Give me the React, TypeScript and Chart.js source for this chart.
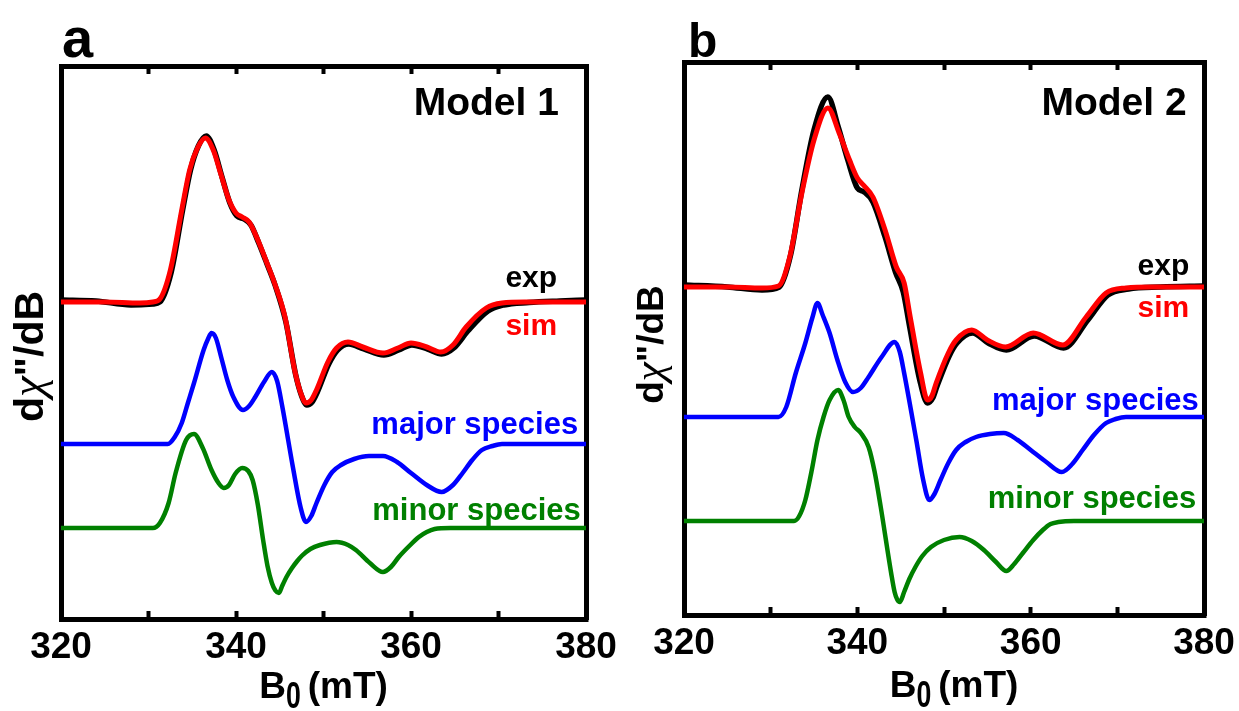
import React, { useEffect, useRef } from "react";
import { Chart, registerables } from "chart.js";

Chart.register(...registerables);

const FONT = '"Liberation Sans", Arial, Helvetica, sans-serif';
const SERIF = '"Liberation Serif", "DejaVu Serif", serif';

// ---------- Panel a (Model 1) ----------
const A_SIM_B = [320, 325, 329, 330.5, 331.3, 332.5, 333.8, 334.7, 335.6, 336.5, 337.4, 338.3, 339.2, 340.0, 340.7, 341.5, 342.5, 343.4, 344.4, 345.6, 346.7, 347.4, 348.0, 348.6, 349.2, 350.5, 351.5, 352.8, 354.5, 356.8, 358.5, 360.0, 361.8, 363.4, 364.8, 366.3, 368.6, 370.4, 373, 380];
const A_SIM_Y = [31.7, 31.7, 31.6, 31.7, 32.0, 34.9, 40.9, 44.9, 47.1, 48.1, 46.9, 44.4, 41.9, 40.6, 40.2, 39.7, 37.9, 35.9, 33.6, 30.2, 24.9, 22.6, 21.6, 21.9, 22.9, 25.7, 27.1, 27.7, 27.2, 26.6, 27.1, 27.6, 27.2, 26.7, 27.4, 29.2, 31.1, 31.6, 31.7, 31.7];

const A_EXP_B = [320, 324, 328, 330.5, 331.3, 332.6, 333.9, 334.8, 335.7, 336.6, 337.5, 338.4, 339.3, 340.1, 340.9, 341.7, 342.6, 343.5, 344.5, 345.7, 346.8, 347.5, 348.1, 348.7, 349.3, 350.6, 351.6, 352.9, 354.6, 356.9, 358.6, 360.1, 361.9, 363.5, 364.9, 366.5, 368.8, 370.6, 373.5, 377, 380];
const A_EXP_Y = [31.9, 31.8, 31.4, 31.5, 31.7, 34.7, 40.9, 44.9, 47.3, 48.3, 46.9, 44.2, 41.6, 40.3, 40.0, 39.4, 37.6, 35.6, 33.3, 29.7, 24.5, 22.3, 21.4, 21.7, 22.7, 25.5, 26.9, 27.5, 27.0, 26.4, 26.9, 27.4, 27.0, 26.5, 27.1, 28.8, 30.8, 31.4, 31.65, 31.8, 31.9];

const A_MAJOR_B = [320, 332.2, 333.0, 333.8, 334.5, 335.2, 336.3, 336.8, 337.2, 337.7, 338.3, 339.0, 339.7, 340.8, 341.5, 342.2, 343.2, 344.1, 344.7, 345.3, 346.5, 347.4, 348.0, 348.6, 349.2, 350.1, 351.0, 352.0, 353.5, 355.2, 356.8, 358.4, 360.0, 361.8, 363.5, 364.8, 365.9, 367.0, 368.1, 369.3, 370.4, 380];
const A_MAJOR_Y = [17.5, 17.5, 18.2, 19.6, 21.6, 23.6, 26.9, 28.0, 28.6, 28.1, 26.2, 23.9, 22.2, 20.9, 21.3, 22.2, 23.7, 24.7, 23.8, 21.2, 15.2, 11.1, 9.7, 10.3, 11.6, 13.4, 14.7, 15.4, 16.0, 16.3, 16.3, 15.7, 14.6, 13.4, 12.7, 13.4, 14.6, 15.9, 16.9, 17.3, 17.5, 17.5];

const A_MINOR_B = [320, 330.5, 331.3, 332.3, 333.1, 334.3, 335.2, 336.2, 337.2, 338.0, 338.6, 339.2, 339.9, 340.7, 341.4, 341.9, 342.5, 343.1, 343.6, 344.1, 344.5, 344.9, 345.3, 345.8, 346.4, 347.0, 347.5, 348.5, 349.6, 351.5, 352.8, 353.7, 355.3, 356.8, 357.7, 358.6, 359.8, 360.9, 361.8, 362.7, 364.5, 380];
const A_MINOR_Y = [9.1, 9.1, 9.6, 11.6, 14.6, 17.9, 18.5, 17.1, 14.9, 13.6, 13.1, 13.4, 14.5, 15.1, 14.8, 13.9, 11.4, 7.9, 5.3, 3.6, 2.85, 2.6, 3.35, 4.25, 5.1, 5.8, 6.3, 7.0, 7.4, 7.7, 7.4, 6.9, 5.6, 4.7, 5.2, 6.2, 7.3, 8.2, 8.7, 9.0, 9.1, 9.1];

// ---------- Panel b (Model 2) ----------
const B_SIM_B = [320, 325, 329, 330.9, 332.2, 333.6, 335.0, 336.6, 337.9, 339.1, 340.0, 340.7, 341.8, 343.2, 344.5, 345.4, 346.1, 347.3, 348.1, 348.6, 349.1, 350.5, 351.4, 353.2, 355.0, 357.1, 360.3, 363.7, 366.4, 368.7, 371, 374, 380];
const B_SIM_Y = [32.8, 32.8, 32.7, 32.9, 35.8, 42.2, 47.5, 50.7, 48.2, 45.5, 43.7, 43.0, 41.8, 38.5, 34.8, 33.2, 29.8, 24.2, 21.5, 21.9, 23.2, 26.2, 27.5, 28.5, 27.5, 26.8, 28.2, 27.0, 29.8, 32.2, 32.7, 32.8, 32.8];

const B_EXP_B = [320, 325, 329, 331.0, 332.3, 333.6, 335.0, 336.6, 337.8, 338.9, 340.0, 340.8, 341.8, 343.2, 344.4, 345.3, 346.0, 347.2, 348.1, 348.7, 349.2, 350.6, 351.5, 353.3, 355.1, 357.2, 360.4, 363.8, 366.6, 368.9, 371.3, 375, 380];
const B_EXP_Y = [33.0, 32.8, 32.5, 32.8, 36.0, 42.5, 48.5, 51.8, 48.8, 45.5, 42.7, 42.3, 41.3, 37.8, 34.3, 32.3, 29.0, 23.5, 21.2, 21.7, 22.9, 25.9, 27.2, 28.2, 27.2, 26.5, 27.9, 26.7, 29.5, 32.0, 32.6, 32.8, 32.9];

const B_MAJOR_B = [320, 330.9, 331.8, 332.9, 334.0, 334.8, 335.4, 336.0, 336.8, 337.7, 338.6, 339.5, 340.4, 341.3, 342.8, 344.3, 344.9, 345.4, 346.8, 347.6, 348.3, 348.9, 349.6, 350.5, 351.4, 352.5, 353.7, 355.3, 356.9, 358.5, 360.0, 361.8, 363.6, 364.8, 366.0, 367.3, 368.7, 369.8, 371.0, 380];
const B_MAJOR_Y = [19.8, 19.8, 20.8, 24.2, 27.2, 29.7, 31.2, 30.0, 28.2, 25.5, 23.3, 22.3, 22.7, 23.8, 25.8, 27.3, 26.3, 24.2, 17.5, 13.5, 11.5, 12.1, 13.5, 15.2, 16.5, 17.3, 17.8, 18.1, 18.2, 17.5, 16.5, 15.3, 14.3, 15.1, 16.5, 18.0, 19.2, 19.6, 19.8, 19.8];

const B_MINOR_B = [320, 332.7, 333.3, 334.0, 334.7, 335.4, 336.1, 336.8, 337.8, 338.4, 339.0, 339.7, 340.4, 341.3, 342.0, 342.7, 343.9, 344.3, 344.6, 344.9, 345.4, 346.0, 346.7, 347.5, 348.5, 350.0, 351.8, 353.2, 354.6, 356.0, 357.2, 358.1, 359.1, 360.3, 361.4, 362.3, 363.2, 365.0, 380];
const B_MINOR_Y = [9.4, 9.4, 9.9, 11.5, 14.3, 17.5, 19.8, 21.5, 22.5, 21.5, 19.8, 18.8, 18.2, 16.8, 14.3, 10.8, 4.2, 2.3, 1.55, 1.3, 2.3, 3.6, 4.8, 5.9, 6.8, 7.5, 7.8, 7.4, 6.5, 5.3, 4.4, 5.1, 6.2, 7.5, 8.5, 9.1, 9.3, 9.4, 9.4];

// axis ticks
const X_MIN = 320;
const X_MAX = 380;
const X_STEP = 10;
const X_LABELED = [320, 340, 360, 380];
const Y_MIN = 0;
const Y_MAX = 55.3;

const pts = (bs: number[], ys: number[]) => bs.map((b, i) => ({ x: b, y: ys[i] }));

function drawYTitle(ctx: CanvasRenderingContext2D, cx: number, cy: number, size: number) {
  const parts = [
    { t: "d", f: `bold ${size}px ${FONT}` },
    { t: "χ", f: `italic ${Math.round(size * 1.15)}px ${SERIF}` },
    { t: "\"", f: `bold ${size}px ${FONT}` },
    { t: "/dB", f: `bold ${size}px ${FONT}` },
  ];
  let total = 0;
  const widths = parts.map((p) => {
    ctx.font = p.f;
    const w = ctx.measureText(p.t).width;
    total += w;
    return w;
  });
  ctx.save();
  ctx.translate(cx, cy);
  ctx.rotate(-Math.PI / 2);
  ctx.textAlign = "left";
  ctx.textBaseline = "alphabetic";
  let px = -total / 2;
  parts.forEach((p, i) => {
    ctx.font = p.f;
    ctx.fillText(p.t, px, 0);
    px += widths[i];
  });
  ctx.restore();
}

const panelTextPlugin = {
  id: "panelText",
  afterDraw(chart: any, _args: any, opts: any) {
    const { ctx, chartArea } = chart;
    const x = chart.scales.x;
    const y = chart.scales.y;
    ctx.save();
    ctx.textBaseline = "alphabetic";
    for (const t of opts.labels) {
      ctx.font = `bold ${t.size}px ${FONT}`;
      ctx.fillStyle = t.color;
      ctx.textAlign = "right";
      ctx.fillText(t.text, x.getPixelForValue(t.b), y.getPixelForValue(t.v));
    }
    ctx.fillStyle = "#000";
    // panel letter
    ctx.textAlign = "left";
    ctx.font = `bold ${opts.letterSize}px ${FONT}`;
    ctx.fillText(opts.letter, chartArea.left + opts.letterDx, chartArea.top + opts.letterDy);
    // y axis title
    drawYTitle(ctx, opts.yTitleX, (chartArea.top + chartArea.bottom) / 2 + opts.yTitleDy, opts.yTitleSize);
    // x axis title with subscript
    const size = opts.xTitleSize;
    ctx.textAlign = "left";
    ctx.font = `bold ${size}px ${FONT}`;
    const wB = ctx.measureText("B").width;
    const wRest = ctx.measureText("(mT)").width;
    const w0 = ctx.measureText("0").width * 0.72;
    const gap = 7;
    const total = wB + w0 + gap + wRest;
    const cx = (chartArea.left + chartArea.right) / 2 + opts.xTitleDx;
    const base = chartArea.bottom + opts.xTitleDy;
    let px = cx - total / 2;
    ctx.fillText("B", px, base);
    px += wB;
    ctx.save();
    ctx.translate(px, base + size * 0.28);
    ctx.scale(0.72, 1);
    ctx.fillText("0", 0, 0);
    ctx.restore();
    px += w0 + gap;
    ctx.fillText("(mT)", px, base);
    ctx.restore();
  },
};

type Pt = { x: number; y: number };
type PanelSpec = {
  left: number;
  width: number;
  padTop: number;
  padRight: number;
  yWidth: number;
  xHeight: number;
  sim: Pt[];
  exp: Pt[];
  major: Pt[];
  minor: Pt[];
  labels: { text: string; color: string; b: number; v: number; size: number }[];
  letter: string;
  letterSize: number;
  letterDx: number;
  letterDy: number;
  yTitleSize: number;
  yTitleX: number;
  yTitleDy: number;
  xTitleDx: number;
  xTitleDy: number;
};

function line(data: Pt[], color: string, width: number) {
  return {
    data,
    borderColor: color,
    backgroundColor: color,
    borderWidth: width,
    pointRadius: 0,
    fill: false,
    cubicInterpolationMode: "monotone" as const,
    borderJoinStyle: "round" as const,
  };
}

function Panel({ spec }: { spec: PanelSpec }) {
  const ref = useRef<HTMLCanvasElement>(null);
  useEffect(() => {
    if (!ref.current) return;
    const tickFont = { family: FONT, size: 37, weight: "bold" as const };
    const gridOpts = {
      drawOnChartArea: false,
      drawTicks: true,
      tickLength: -8,
      tickWidth: 4,
      tickColor: "#000",
      color: "#000",
    };
    const border = { display: true, width: 5, color: "#000" };
    const chart = new Chart(ref.current, {
      type: "line",
      data: {
        datasets: [
          line(spec.sim, "#ff0000", 5),
          line(spec.exp, "#000000", 5.5),
          line(spec.major, "#0000ff", 4.5),
          line(spec.minor, "#008000", 4.5),
        ],
      },
      options: {
        responsive: false,
        animation: false,
        events: [],
        layout: { padding: { top: spec.padTop, right: spec.padRight, left: 0, bottom: 0 } },
        plugins: {
          legend: { display: false },
          tooltip: { enabled: false },
          panelText: {
            labels: spec.labels,
            letter: spec.letter,
            letterSize: spec.letterSize,
            letterDx: spec.letterDx,
            letterDy: spec.letterDy,
            yTitleSize: spec.yTitleSize,
            yTitleX: spec.yTitleX,
            yTitleDy: spec.yTitleDy,
            xTitleSize: 37,
            xTitleDx: spec.xTitleDx,
            xTitleDy: spec.xTitleDy,
          },
        } as any,
        scales: {
          x: {
            type: "linear",
            position: "bottom",
            min: X_MIN,
            max: X_MAX,
            ticks: {
              stepSize: X_STEP,
              autoSkip: false,
              maxRotation: 0,
              padding: 15,
              color: "#000",
              font: tickFont,
              callback: (v: any) => (X_LABELED.includes(Number(v)) ? String(v) : ""),
            },
            grid: gridOpts,
            border,
            afterFit: (s: any) => {
              s.height = spec.xHeight;
              s.paddingLeft = 0;
              s.paddingRight = 0;
            },
          },
          x2: {
            type: "linear",
            position: "top",
            min: X_MIN,
            max: X_MAX,
            ticks: { stepSize: X_STEP, display: false },
            grid: gridOpts,
            border,
            afterFit: (s: any) => {
              s.height = 0;
              s.paddingLeft = 0;
              s.paddingRight = 0;
            },
          },
          y: {
            type: "linear",
            position: "left",
            min: Y_MIN,
            max: Y_MAX,
            ticks: { display: false },
            grid: { display: false },
            border,
            afterFit: (s: any) => {
              s.width = spec.yWidth;
              s.paddingTop = 0;
              s.paddingBottom = 0;
            },
          },
          y2: {
            type: "linear",
            position: "right",
            min: Y_MIN,
            max: Y_MAX,
            ticks: { display: false },
            grid: { display: false },
            border,
            afterFit: (s: any) => {
              s.width = 0;
              s.paddingTop = 0;
              s.paddingBottom = 0;
            },
          },
        },
      } as any,
      plugins: [panelTextPlugin as any],
    });
    return () => chart.destroy();
  }, [spec]);
  return (
    <div style={{ position: "absolute", left: spec.left, top: 0, width: spec.width, height: 711 }}>
      <canvas ref={ref} width={spec.width} height={711} style={{ display: "block" }} />
    </div>
  );
}

const PANEL_A: PanelSpec = {
  left: 0,
  width: 620,
  padTop: 66,
  padRight: 34,
  yWidth: 61,
  xHeight: 92,
  sim: pts(A_SIM_B, A_SIM_Y),
  exp: pts(A_EXP_B, A_EXP_Y),
  major: pts(A_MAJOR_B, A_MAJOR_Y),
  minor: pts(A_MINOR_B, A_MINOR_Y),
  labels: [
    { text: "Model 1", color: "#000", b: 376.9, v: 50.4, size: 39 },
    { text: "exp", color: "#000", b: 376.7, v: 33.2, size: 30 },
    { text: "sim", color: "#ff0000", b: 376.7, v: 28.4, size: 30 },
    { text: "major species", color: "#0000ff", b: 379.1, v: 18.5, size: 31 },
    { text: "minor species", color: "#008000", b: 379.4, v: 9.9, size: 31 },
  ],
  letter: "a",
  letterSize: 56,
  letterDx: 1,
  letterDy: -9,
  yTitleSize: 41,
  yTitleX: 43,
  yTitleDy: 14,
  xTitleDx: 0,
  xTitleDy: 79,
};

const PANEL_B: PanelSpec = {
  left: 620,
  width: 619,
  padTop: 62,
  padRight: 35,
  yWidth: 64,
  xHeight: 96,
  sim: pts(B_SIM_B, B_SIM_Y),
  exp: pts(B_EXP_B, B_EXP_Y),
  major: pts(B_MAJOR_B, B_MAJOR_Y),
  minor: pts(B_MINOR_B, B_MINOR_Y),
  labels: [
    { text: "Model 2", color: "#000", b: 378.0, v: 50.0, size: 39 },
    { text: "exp", color: "#000", b: 378.3, v: 34.0, size: 30 },
    { text: "sim", color: "#ff0000", b: 378.3, v: 29.8, size: 30 },
    { text: "major species", color: "#0000ff", b: 379.4, v: 20.5, size: 31 },
    { text: "minor species", color: "#008000", b: 379.1, v: 10.7, size: 31 },
  ],
  letter: "b",
  letterSize: 48,
  letterDx: 4,
  letterDy: -5,
  yTitleSize: 37,
  yTitleX: 43,
  yTitleDy: 6,
  xTitleDx: 10,
  xTitleDy: 82,
};

export default function App() {
  return (
    <div style={{ position: "fixed", left: 0, top: 0, width: 1239, height: 711, background: "#fff" }}>
      <Panel spec={PANEL_A} />
      <Panel spec={PANEL_B} />
    </div>
  );
}
